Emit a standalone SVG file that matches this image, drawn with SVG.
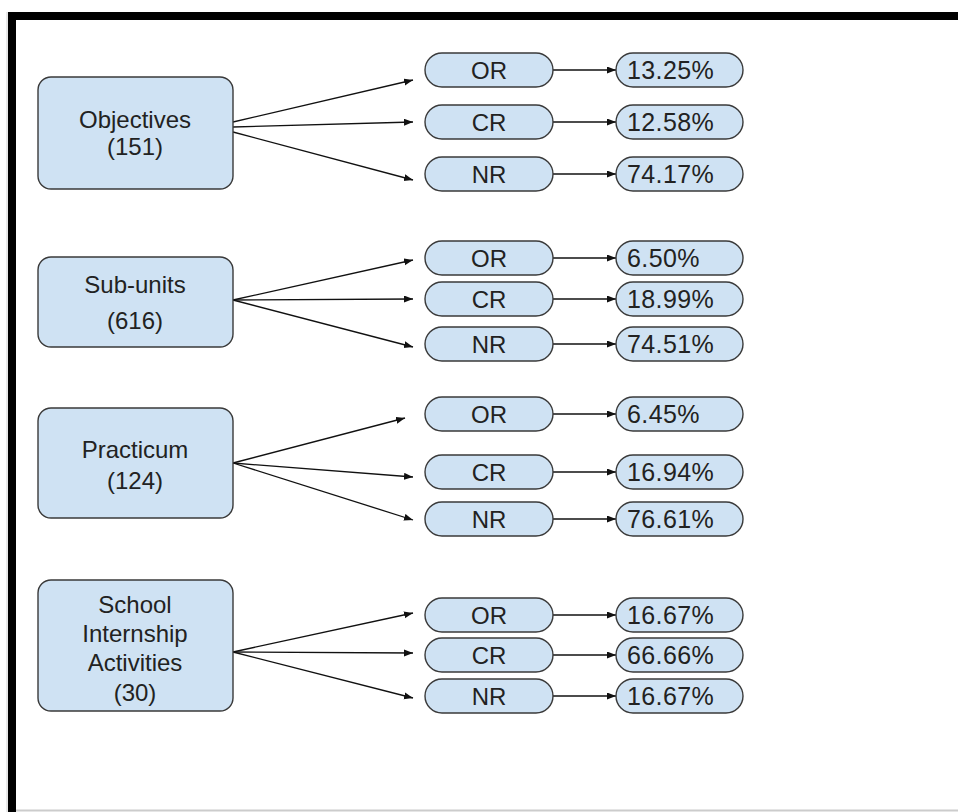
<svg xmlns="http://www.w3.org/2000/svg" width="958" height="812" viewBox="0 0 958 812">
<defs>
<marker id="ah" markerUnits="userSpaceOnUse" markerWidth="10" markerHeight="8" refX="9" refY="3.5" orient="auto">
<path d="M0,0 L9,3.5 L0,7 z" fill="#111"/>
</marker>
<style>
.box{fill:#cfe2f3;stroke:#3a3a3a;stroke-width:1.4}
.t{font-family:"Liberation Sans",Arial,sans-serif;font-size:24px;fill:#222;text-anchor:middle}
.p{font-family:"Liberation Sans",Arial,sans-serif;font-size:24px;fill:#222;text-anchor:middle}
.q{font-family:"Liberation Sans",Arial,sans-serif;font-size:25px;letter-spacing:0.4px;fill:#222;text-anchor:start}
.c{stroke:#111;stroke-width:1.3;fill:none;marker-end:url(#ah)}
</style>
</defs>
<rect width="958" height="812" fill="#fff"/>
<g id="frame">
<line x1="7" y1="12" x2="7" y2="812" stroke="#d0d0d0" stroke-width="1"/>
<line x1="16" y1="810.5" x2="958" y2="810.5" stroke="#cccccc" stroke-width="2"/>
<rect x="8" y="12" width="950" height="8" fill="#000"/>
<rect x="8" y="12" width="8" height="800" fill="#000"/>
</g>
<g id="connectors">
<line class="c" x1="233" y1="122" x2="413" y2="80"/>
<line class="c" x1="233" y1="127" x2="413" y2="122"/>
<line class="c" x1="233" y1="132" x2="413" y2="180"/>
<line class="c" x1="553" y1="70" x2="616" y2="70"/>
<line class="c" x1="553" y1="122" x2="616" y2="122"/>
<line class="c" x1="553" y1="174" x2="616" y2="174"/>
<line class="c" x1="233" y1="300" x2="413" y2="260"/>
<line class="c" x1="233" y1="300" x2="413" y2="299"/>
<line class="c" x1="233" y1="300" x2="413" y2="347"/>
<line class="c" x1="553" y1="258" x2="616" y2="258"/>
<line class="c" x1="553" y1="299" x2="616" y2="299"/>
<line class="c" x1="553" y1="344" x2="616" y2="344"/>
<line class="c" x1="233" y1="463" x2="405" y2="418"/>
<line class="c" x1="233" y1="463" x2="413" y2="477"/>
<line class="c" x1="233" y1="463" x2="413" y2="520"/>
<line class="c" x1="553" y1="414" x2="616" y2="414"/>
<line class="c" x1="553" y1="472" x2="616" y2="472"/>
<line class="c" x1="553" y1="519" x2="616" y2="519"/>
<line class="c" x1="233" y1="652" x2="413" y2="613"/>
<line class="c" x1="233" y1="652" x2="413" y2="653"/>
<line class="c" x1="233" y1="652" x2="413" y2="698"/>
<line class="c" x1="553" y1="615" x2="616" y2="615"/>
<line class="c" x1="553" y1="655" x2="616" y2="655"/>
<line class="c" x1="553" y1="696" x2="616" y2="696"/>
</g>
<g id="objectives">
<rect class="box" x="38" y="77" width="195" height="112" rx="13"/>
<text class="t" x="135" y="128">Objectives</text>
<text class="t" x="135" y="155">(151)</text>
</g>
<g id="obj-or"><rect class="box" x="425" y="53" width="128" height="34" rx="17"/><text class="p" x="489" y="79">OR</text></g>
<g id="obj-cr"><rect class="box" x="425" y="105" width="128" height="34" rx="17"/><text class="p" x="489" y="131">CR</text></g>
<g id="obj-nr"><rect class="box" x="425" y="157" width="128" height="34" rx="17"/><text class="p" x="489" y="183">NR</text></g>
<g id="obj-or-pct"><rect class="box" x="616" y="53" width="127" height="34" rx="17"/><text class="q" x="627" y="79">13.25%</text></g>
<g id="obj-cr-pct"><rect class="box" x="616" y="105" width="127" height="34" rx="17"/><text class="q" x="627" y="131">12.58%</text></g>
<g id="obj-nr-pct"><rect class="box" x="616" y="157" width="127" height="34" rx="17"/><text class="q" x="627" y="183">74.17%</text></g>
<g id="subunits">
<rect class="box" x="38" y="257" width="195" height="90" rx="13"/>
<text class="t" x="135" y="293">Sub-units</text>
<text class="t" x="135" y="329">(616)</text>
</g>
<g id="sub-or"><rect class="box" x="425" y="241" width="128" height="34" rx="17"/><text class="p" x="489" y="267">OR</text></g>
<g id="sub-cr"><rect class="box" x="425" y="282" width="128" height="34" rx="17"/><text class="p" x="489" y="308">CR</text></g>
<g id="sub-nr"><rect class="box" x="425" y="327" width="128" height="34" rx="17"/><text class="p" x="489" y="353">NR</text></g>
<g id="sub-or-pct"><rect class="box" x="616" y="241" width="127" height="34" rx="17"/><text class="q" x="627" y="267">6.50%</text></g>
<g id="sub-cr-pct"><rect class="box" x="616" y="282" width="127" height="34" rx="17"/><text class="q" x="627" y="308">18.99%</text></g>
<g id="sub-nr-pct"><rect class="box" x="616" y="327" width="127" height="34" rx="17"/><text class="q" x="627" y="353">74.51%</text></g>
<g id="practicum">
<rect class="box" x="38" y="408" width="195" height="110" rx="13"/>
<text class="t" x="135" y="458">Practicum</text>
<text class="t" x="135" y="489">(124)</text>
</g>
<g id="pra-or"><rect class="box" x="425" y="397" width="128" height="34" rx="17"/><text class="p" x="489" y="423">OR</text></g>
<g id="pra-cr"><rect class="box" x="425" y="455" width="128" height="34" rx="17"/><text class="p" x="489" y="481">CR</text></g>
<g id="pra-nr"><rect class="box" x="425" y="502" width="128" height="34" rx="17"/><text class="p" x="489" y="528">NR</text></g>
<g id="pra-or-pct"><rect class="box" x="616" y="397" width="127" height="34" rx="17"/><text class="q" x="627" y="423">6.45%</text></g>
<g id="pra-cr-pct"><rect class="box" x="616" y="455" width="127" height="34" rx="17"/><text class="q" x="627" y="481">16.94%</text></g>
<g id="pra-nr-pct"><rect class="box" x="616" y="502" width="127" height="34" rx="17"/><text class="q" x="627" y="528">76.61%</text></g>
<g id="school">
<rect class="box" x="38" y="580" width="195" height="131" rx="13"/>
<text class="t" x="135" y="613">School</text>
<text class="t" x="135" y="642">Internship</text>
<text class="t" x="135" y="671">Activities</text>
<text class="t" x="135" y="701">(30)</text>
</g>
<g id="sch-or"><rect class="box" x="425" y="598" width="128" height="34" rx="17"/><text class="p" x="489" y="624">OR</text></g>
<g id="sch-cr"><rect class="box" x="425" y="638" width="128" height="34" rx="17"/><text class="p" x="489" y="664">CR</text></g>
<g id="sch-nr"><rect class="box" x="425" y="679" width="128" height="34" rx="17"/><text class="p" x="489" y="705">NR</text></g>
<g id="sch-or-pct"><rect class="box" x="616" y="598" width="127" height="34" rx="17"/><text class="q" x="627" y="624">16.67%</text></g>
<g id="sch-cr-pct"><rect class="box" x="616" y="638" width="127" height="34" rx="17"/><text class="q" x="627" y="664">66.66%</text></g>
<g id="sch-nr-pct"><rect class="box" x="616" y="679" width="127" height="34" rx="17"/><text class="q" x="627" y="705">16.67%</text></g>
</svg>
